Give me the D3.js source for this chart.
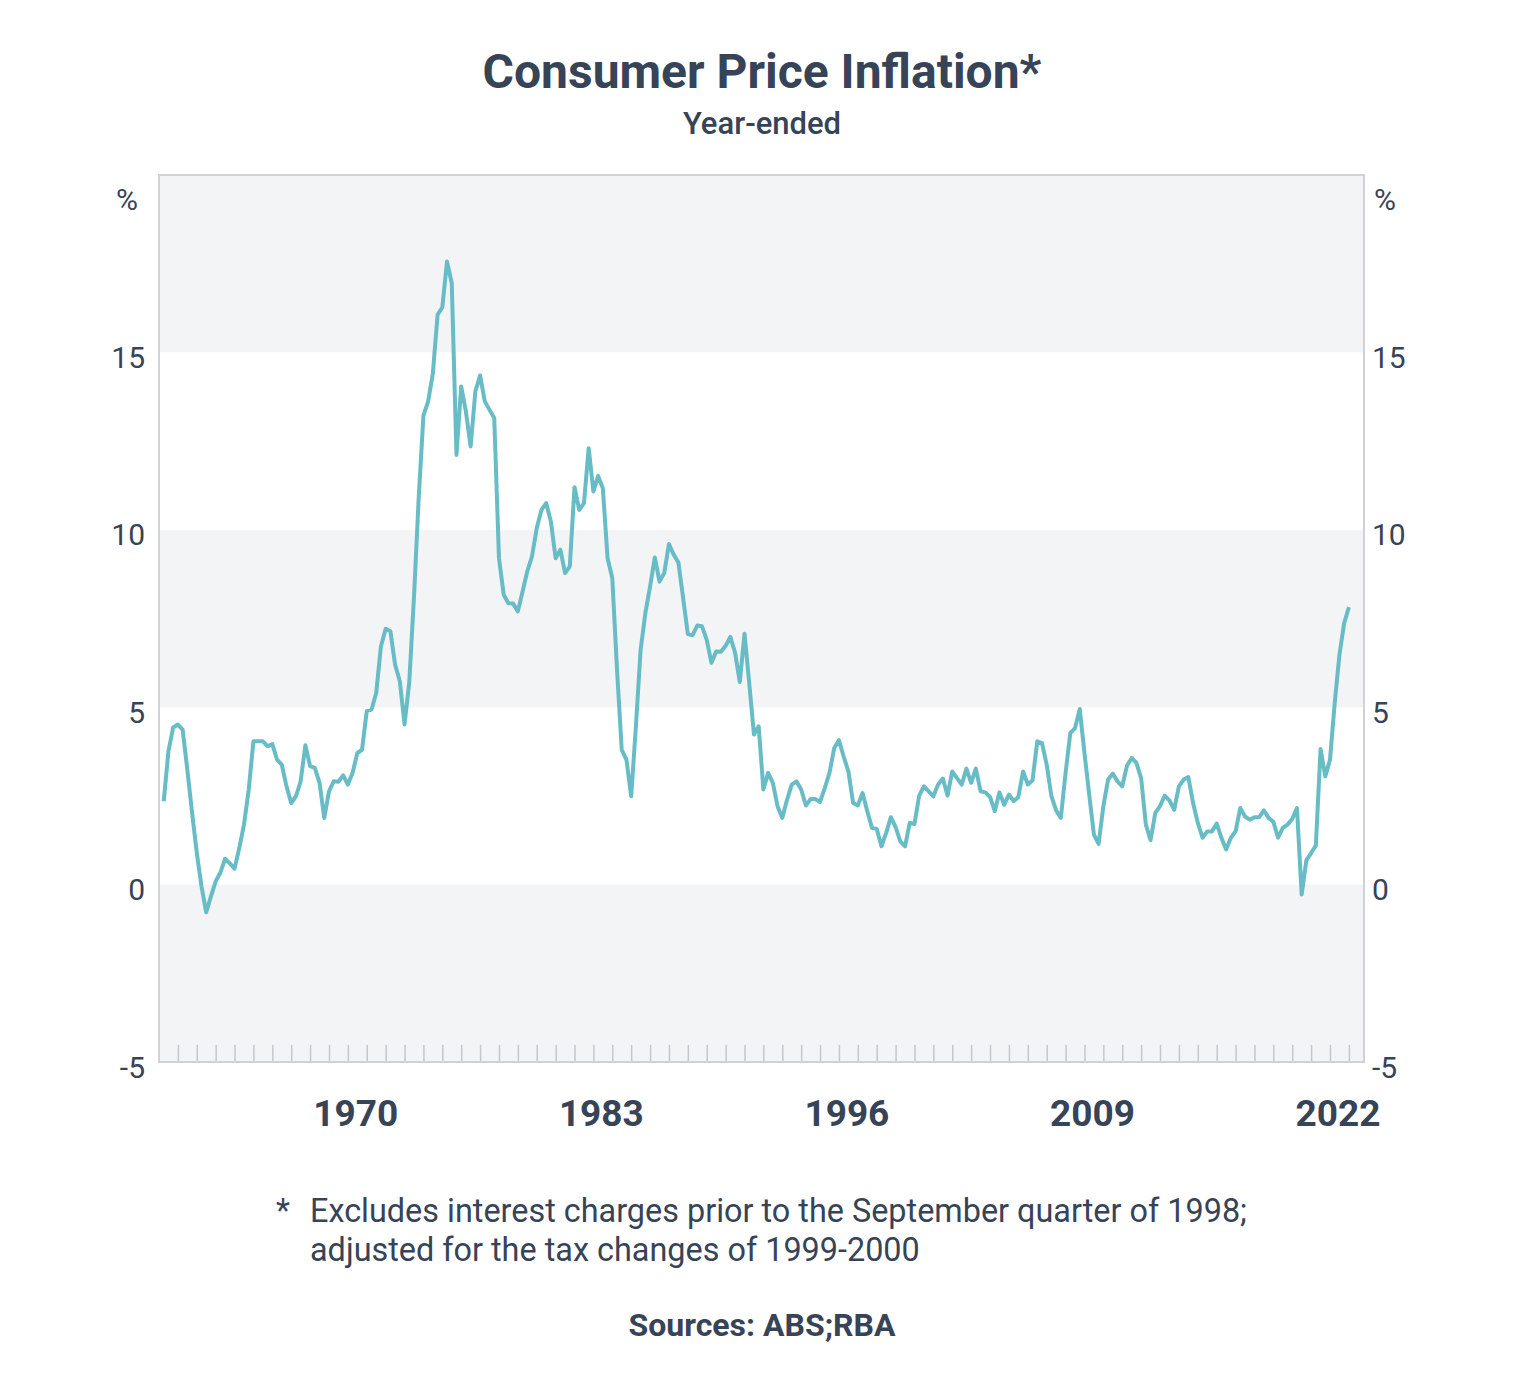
<!DOCTYPE html>
<html>
<head>
<meta charset="utf-8">
<script src="https://cdn.jsdelivr.net/npm/d3@7"></script>
<style>
    body { margin: 0; background: #fff; }
    svg text { font-family: Roboto, 'Noto Sans', sans-serif; fill: #374357; }
</style>
</head>
<body>
<svg id="main" width="1540" height="1388"></svg>
<script>
const width = 1540;
const height = 1388;
const position = {
    left: 159,
    top: 175,
    right: 176,
    bottom: 326
};
const innerWidth = width - position.left - position.right;
const innerHeight = height - position.top - position.bottom;

// year-ended CPI, quarterly, Mar 1960 to Dec 2022
const firstYear = 1960;
const cpiValues = [
    2.35, 3.76, 4.43, 4.51, 4.37, 3.24, 2.03, 0.9, -0.05, -0.78,
    -0.33, 0.09, 0.34, 0.73, 0.6, 0.45, 1.03, 1.69, 2.68, 4.04,
    4.04, 4.04, 3.9, 3.96, 3.52, 3.38, 2.77, 2.3, 2.49, 2.91,
    3.93, 3.34, 3.29, 2.87, 1.88, 2.63, 2.91, 2.9, 3.08, 2.82,
    3.15, 3.71, 3.8, 4.89, 4.93, 5.4, 6.71, 7.21, 7.14, 6.2,
    5.73, 4.51, 5.7, 8.1, 10.9, 13.22, 13.62, 14.41, 16.06, 16.27,
    17.56, 16.95, 12.11, 14.04, 13.33, 12.35, 13.9, 14.35, 13.62, 13.38,
    13.15, 9.2, 8.17, 7.93, 7.92, 7.7, 8.26, 8.83, 9.25, 10.05,
    10.56, 10.75, 10.23, 9.2, 9.44, 8.78, 8.97, 11.2, 10.56, 10.75,
    12.3, 11.08, 11.52, 11.17, 9.2, 8.64, 6.06, 3.8, 3.52, 2.49,
    4.46, 6.62, 7.65, 8.4, 9.22, 8.54, 8.78, 9.6, 9.3, 9.08,
    8.08, 7.06, 7.03, 7.3, 7.28, 6.9, 6.25, 6.57, 6.56, 6.73,
    6.98, 6.54, 5.71, 7.07, 5.68, 4.23, 4.46, 2.68, 3.15, 2.87,
    2.21, 1.88, 2.39, 2.82, 2.91, 2.68, 2.23, 2.41, 2.41, 2.33,
    2.72, 3.15, 3.85, 4.07, 3.61, 3.19, 2.3, 2.23, 2.58, 2.07,
    1.6, 1.57, 1.08, 1.46, 1.9, 1.62, 1.22, 1.08, 1.74, 1.71,
    2.51, 2.77, 2.63, 2.49, 2.82, 2.99, 2.51, 3.19, 3.0, 2.82,
    3.27, 2.87, 3.27, 2.63, 2.6, 2.47, 2.07, 2.6, 2.25, 2.54,
    2.35, 2.47, 3.19, 2.82, 2.94, 4.04, 3.99, 3.38, 2.49, 2.09,
    1.88, 3.15, 4.27, 4.41, 4.95, 3.71, 2.54, 1.41, 1.15, 2.21,
    2.96, 3.13, 2.91, 2.77, 3.35, 3.57, 3.43, 3.0, 1.69, 1.25,
    2.02, 2.21, 2.51, 2.37, 2.11, 2.77, 2.96, 3.03, 2.3, 1.74,
    1.32, 1.5, 1.5, 1.72, 1.32, 0.99, 1.32, 1.5, 2.16, 1.92,
    1.83, 1.9, 1.9, 2.09, 1.88, 1.77, 1.32, 1.6, 1.69, 1.85,
    2.16, -0.28, 0.69, 0.89, 1.1, 3.82, 3.05, 3.52, 5.12, 6.48,
    7.37, 7.82
];
const xTickLabels = [1970, 1983, 1996, 2009, 2022];
const yTicks = [-5, 0, 5, 10, 15];
const shadedBands = [[-5, 0], [5, 10], [15, 20]];

// quarter end as fractional year
const data = cpiValues.map((v, i) => ({
    time: firstYear + (i + 1) / 4,
    value: v
}));

const svg = d3.select('#main');

svg.append('text')
    .text('Consumer Price Inflation*')
    .attr('x', 762)
    .attr('y', 88)
    .attr('text-anchor', 'middle')
    .attr('font-size', 48)
    .attr('font-weight', 700);

svg.append('text')
    .text('Year-ended')
    .attr('x', 762)
    .attr('y', 134)
    .attr('text-anchor', 'middle')
    .attr('font-size', 31)
    .attr('font-weight', 500);

const mainGroup = svg
    .append('g')
    .attr('transform', `translate(${position.left}, ${position.top})`);

const xScale = d3
    .scaleLinear()
    .domain([firstYear, 2023.8])
    .range([0, innerWidth]);

const yScale = d3
    .scaleLinear()
    .domain([-5, 20])
    .range([innerHeight, 0]);

mainGroup
    .append('rect')
    .attr('width', innerWidth)
    .attr('height', innerHeight)
    .attr('fill', '#ffffff');

mainGroup
    .selectAll('.band')
    .data(shadedBands)
    .join('rect')
    .attr('class', 'band')
    .attr('x', 0)
    .attr('width', innerWidth)
    .attr('y', d => yScale(d[1]))
    .attr('height', d => yScale(d[0]) - yScale(d[1]))
    .attr('fill', '#f3f4f6');

// yearly minor ticks along the bottom, pointing inwards
const minorAxis = d3
    .axisBottom(xScale)
    .tickValues(d3.range(1961, 2024))
    .tickSize(-17)
    .tickFormat('');
const minorG = mainGroup
    .append('g')
    .attr('transform', `translate(0, ${innerHeight})`)
    .call(minorAxis);
minorG.select('.domain').remove();
minorG.selectAll('text').remove();
minorG.selectAll('line').attr('stroke', '#c4c7cc').attr('stroke-width', 1.5);

const xAxis = d3
    .axisBottom(xScale)
    .tickValues(xTickLabels.map(y => y + 0.5))
    .tickSize(0)
    .tickPadding(0)
    .tickFormat(d => Math.floor(d));
const xG = mainGroup
    .append('g')
    .attr('transform', `translate(0, ${innerHeight})`)
    .call(xAxis)
    .attr('font-family', null)
    .attr('font-size', 37)
    .attr('font-weight', 700);
xG.select('.domain').remove();
xG.selectAll('text')
    .attr('fill', '#374357')
    .attr('dy', null)
    .attr('y', 64)
    .attr('dx', -2);

const yAxisLeft = d3.axisLeft(yScale).tickValues(yTicks).tickSize(0).tickPadding(14).tickFormat(d => String(d));
const yAxisRight = d3.axisRight(yScale).tickValues(yTicks).tickSize(0).tickPadding(8).tickFormat(d => String(d));

const yl = mainGroup.append('g').call(yAxisLeft);
const yr = mainGroup.append('g').attr('transform', `translate(${innerWidth}, 0)`).call(yAxisRight);
[yl, yr].forEach(g => {
    g.attr('font-family', null).attr('font-size', 30);
    g.select('.domain').remove();
    g.selectAll('text')
        .attr('dy', null)
        .attr('y', 15)
        .attr('fill', '#3d4859');
});

svg.append('text')
    .text('%')
    .attr('x', 127)
    .attr('y', 210)
    .attr('text-anchor', 'middle')
    .attr('font-size', 30)
    .attr('fill', '#3d4859');
svg.append('text')
    .text('%')
    .attr('x', 1385)
    .attr('y', 210)
    .attr('text-anchor', 'middle')
    .attr('font-size', 30)
    .attr('fill', '#3d4859');

mainGroup
    .append('rect')
    .attr('width', innerWidth)
    .attr('height', innerHeight)
    .attr('fill', 'none')
    .attr('stroke', '#cfd1d4')
    .attr('stroke-width', 2);

const line = d3
    .line()
    .x(d => xScale(d.time))
    .y(d => yScale(d.value));
mainGroup
    .append('path')
    .attr('d', line(data))
    .attr('fill', 'none')
    .attr('stroke', '#67bcc6')
    .attr('stroke-width', 4)
    .attr('stroke-linejoin', 'round');

// footnote and sources
svg.append('text')
    .text('*')
    .attr('x', 283)
    .attr('y', 1222)
    .attr('text-anchor', 'middle')
    .attr('font-size', 32.4);
svg.append('text')
    .text('Excludes interest charges prior to the September quarter of 1998;')
    .attr('x', 310)
    .attr('y', 1222)
    .attr('font-size', 32.4);
svg.append('text')
    .text('adjusted for the tax changes of 1999-2000')
    .attr('x', 310)
    .attr('y', 1261)
    .attr('font-size', 32.4);
svg.append('text')
    .text('Sources: ABS;RBA')
    .attr('x', 762)
    .attr('y', 1336)
    .attr('text-anchor', 'middle')
    .attr('font-size', 32)
    .attr('font-weight', 700);
</script>
</body>
</html>
